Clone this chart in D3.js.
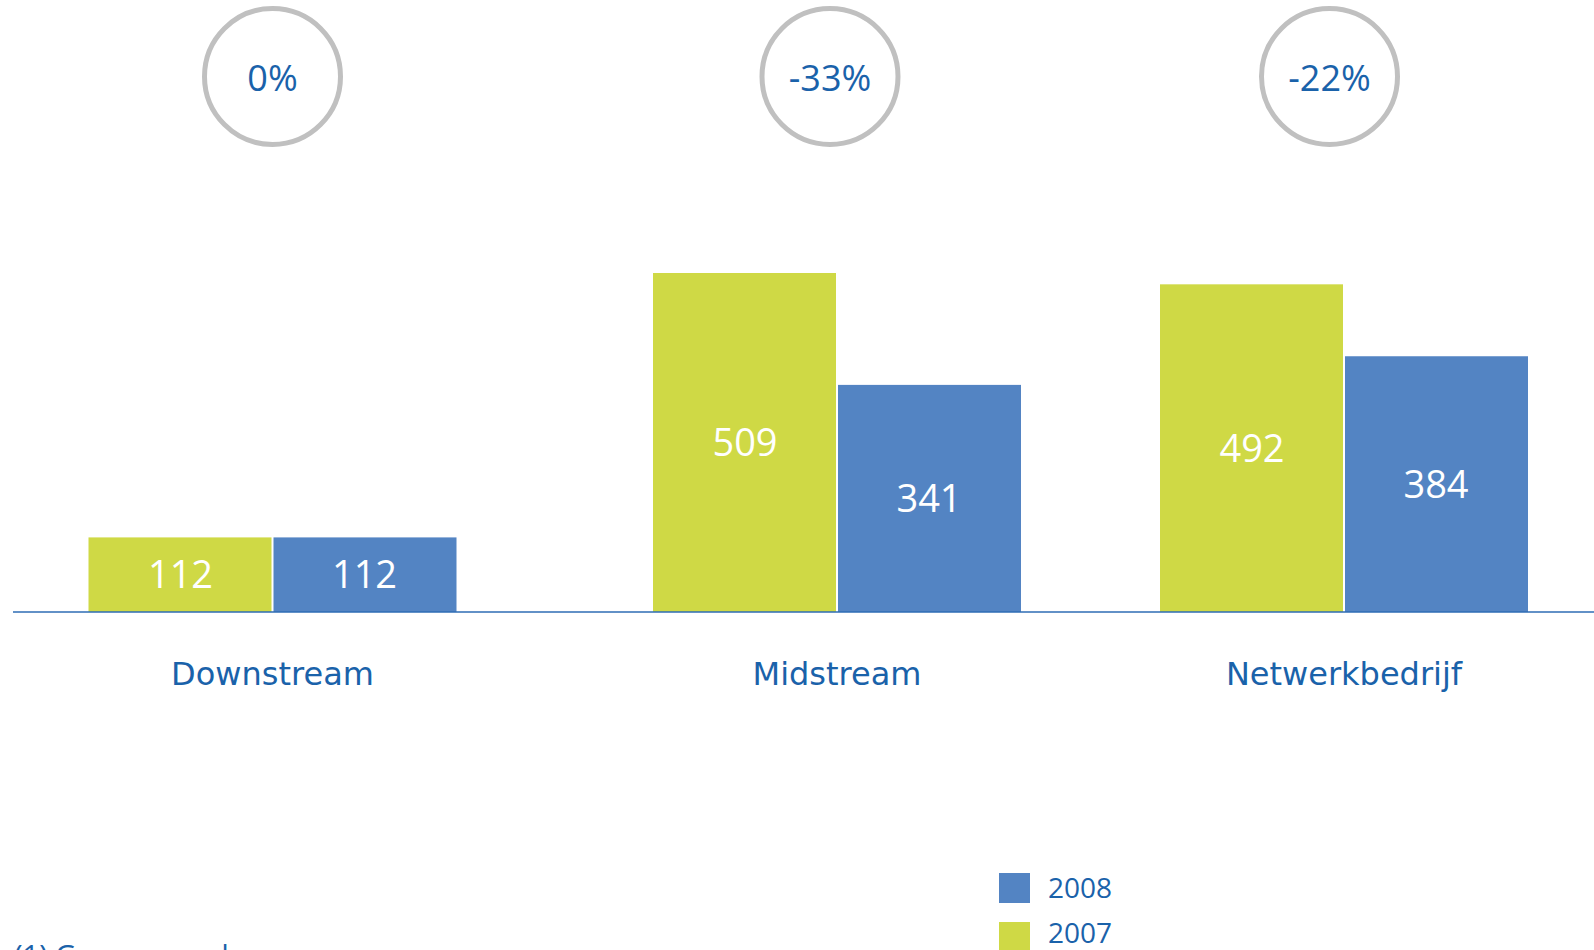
<!DOCTYPE html>
<html>
<head>
<meta charset="utf-8">
<script src="https://cdn.jsdelivr.net/npm/d3@7"></script>
<style>
  html, body { margin: 0; padding: 0; background: #fff; }
  svg { display: block; }
</style>
</head>
<body>
<svg id="chart"></svg>
<script>
// data
const categories = ['Downstream', 'Midstream', 'Netwerkbedrijf'];
const years = ['2007', '2008'];
const values2007 = [112, 509, 492];
const values2008 = [112, 341, 384];
const changeLabels = ['0%', '-33%', '-22%'];
const legendYears = ['2008', '2007'];
const footnote = '(1)  Genormeerd';

const width = 1594;
const height = 950;
const baseY = 612;
const textBlue = '#1a62aa';
const colors = { '2007': '#cfd945', '2008': '#5384c3' };

const svg = d3.select('#chart')
  .attr('width', width)
  .attr('height', height)
  .attr('viewBox', [0, 0, width, height]);

// group centres are not evenly spaced in the original slide
const xGroup = d3.scaleOrdinal()
  .domain(categories)
  .range([272.5, 837, 1344]);

const xCircle = d3.scaleOrdinal()
  .domain(categories)
  .range([272.5, 830, 1329.5]);

const groupWidth = 368;
const xSub = d3.scaleBand()
  .domain(years)
  .range([-groupWidth / 2, groupWidth / 2])
  .paddingInner(0);

const y = d3.scaleLinear()
  .domain([0, 509])
  .range([baseY, 273]);

const rows = categories.map((c, i) => ({
  category: c,
  change: changeLabels[i],
  bars: [
    { year: '2007', value: values2007[i] },
    { year: '2008', value: values2008[i] }
  ]
}));

// circles with % change
const circ = svg.append('g')
  .selectAll('g')
  .data(rows)
  .join('g')
    .attr('transform', d => `translate(${xCircle(d.category)},76.5)`);

circ.append('circle')
  .attr('r', 68)
  .attr('fill', 'none')
  .attr('stroke', '#c0c0c0')
  .attr('stroke-width', 5);

circ.append('text')
  .attr('y', 14)
  .attr('text-anchor', 'middle')
  .attr('font-family', 'Open Sans')
  .attr('font-size', 36)
  .attr('fill', textBlue)
  .text(d => d.change);

// bars
const groups = svg.append('g')
  .selectAll('g')
  .data(rows)
  .join('g')
    .attr('transform', d => `translate(${xGroup(d.category)},0)`);

groups.selectAll('rect')
  .data(d => d.bars)
  .join('rect')
    .attr('x', d => xSub(d.year) + (d.year === '2008' ? 1 : 0))
    .attr('y', d => y(d.value))
    .attr('width', xSub.bandwidth() - 1)
    .attr('height', d => baseY - y(d.value))
    .attr('fill', d => colors[d.year]);

groups.selectAll('text.val')
  .data(d => d.bars)
  .join('text')
    .attr('class', 'val')
    .attr('x', d => xSub(d.year) + xSub.bandwidth() / 2)
    .attr('y', d => (y(d.value) + baseY) / 2 + 13.5)
    .attr('text-anchor', 'middle')
    .attr('font-family', 'Open Sans')
    .attr('font-size', 38)
    .attr('fill', '#fff')
    .text(d => d.value);

// baseline
svg.append('line')
  .attr('x1', 13)
  .attr('x2', width)
  .attr('y1', baseY)
  .attr('y2', baseY)
  .attr('stroke', '#2e6db4')
  .attr('stroke-width', 1.5);

// category labels
svg.append('g')
  .selectAll('text')
  .data(categories)
  .join('text')
    .attr('x', d => xGroup(d))
    .attr('y', 685)
    .attr('text-anchor', 'middle')
    .attr('font-family', 'DejaVu Sans')
    .attr('font-size', 32)
    .attr('fill', textBlue)
    .text(d => d);

// legend
const legend = svg.append('g')
  .selectAll('g')
  .data(legendYears)
  .join('g')
    .attr('transform', (d, i) => `translate(999,${873 + i * 49})`);

legend.append('rect')
  .attr('width', 31)
  .attr('height', 30)
  .attr('fill', d => colors[d]);

legend.append('text')
  .attr('x', 49)
  .attr('y', (d, i) => 24.5 - i * 4)
  .attr('font-family', 'Open Sans')
  .attr('font-size', 28)
  .attr('fill', textBlue)
  .text(d => d);

// footnote, mostly cut off by the page edge
svg.append('text')
  .attr('x', 14)
  .attr('y', 966)
  .attr('font-family', 'Open Sans')
  .attr('font-size', 29)
  .attr('fill', textBlue)
  .text(footnote);
</script>
</body>
</html>
